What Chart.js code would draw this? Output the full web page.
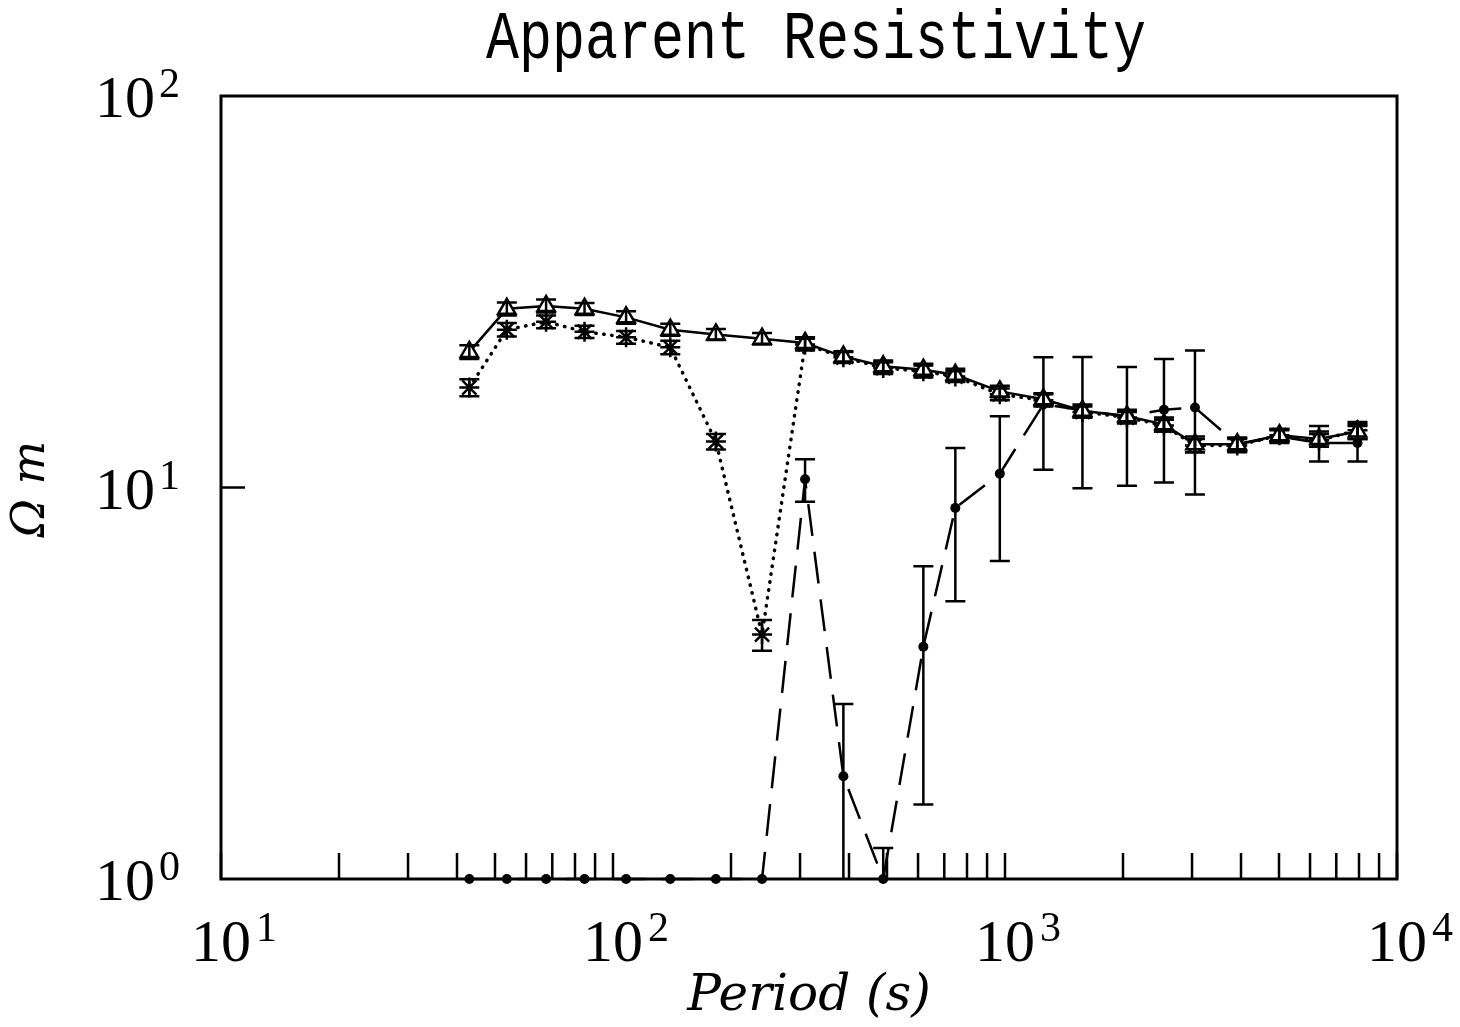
<!DOCTYPE html>
<html>
<head>
<meta charset="utf-8">
<title>Apparent Resistivity</title>
<script src="https://cdn.jsdelivr.net/npm/chart.js@4.4.1/dist/chart.umd.min.js"></script>
<style>
  html, body { margin: 0; padding: 0; background: #fff; }
</style>
</head>
<body>
<canvas id="canvas-1" width="1460" height="1027"></canvas>
<script>
// periods (s)
const periods = [43, 53.6, 67.5, 84.6, 108, 140, 183, 240, 309, 387, 489, 619, 747, 970, 1253, 1576, 2047, 2544, 3052, 3912, 5012, 6325, 7930];

// triangles, solid line
const rhoTri = [22.2, 28.6, 29.1, 28.6, 27.2, 25.3, 24.6, 24.0, 23.4, 21.6, 20.4, 20.0, 19.4, 17.6, 16.8, 15.7, 15.2, 14.5, 12.9, 12.9, 13.6, 13.3, 13.9];
const errTri = [0.9, 1.1, 1.1, 1.0, 1.0, 0.9, 0.8, 0.8, 0.8, 0.7, 0.7, 0.7, 0.7, 0.6, 0.6, 0.6, 0.6, 0.6, 0.6, 0.5, 0.5, 0.6, 0.6];

// asterisks, dotted line
const rhoStar = [18.0, 25.3, 26.5, 25.0, 24.2, 22.8, 13.1, 4.21, 23.2, 21.5, 20.2, 19.8, 19.2, 17.3, 16.7, 15.6, 15.1, 14.4, 12.8, 12.8, 13.6, 13.2, 14.0];
const errStar = [0.9, 1.0, 1.0, 0.9, 0.9, 0.9, 0.6, 0.38, 0.8, 0.7, 0.7, 0.7, 0.6, 0.6, 0.6, 0.5, 0.5, 0.5, 0.5, 0.5, 0.5, 0.5, 0.7];

// dots, dashed line (values under 1 sit on the bottom axis)
const rhoDot = [1, 1, 1, 1, 1, 1, 1, 1, 10.5, 1.83, 1, 3.92, 8.87, 10.85, 16.3, 15.75, 15.2, 15.8, 16.0, 12.9, 13.5, 13.0, 13.0];
const errDot = [0, 0, 0, 0, 0, 0, 0, 0, 1.3, 0.97, 0.2, 2.37, 3.75, 4.36, 5.2, 5.8, 5.1, 5.5, 6.4, 0.5, 0.5, 1.35, 1.35];

// axis ticks
const xTicks = [10, 20, 30, 40, 50, 60, 70, 80, 90, 100, 200, 300, 400, 500, 600, 700, 800, 900,
  1000, 2000, 3000, 4000, 5000, 6000, 7000, 8000, 9000, 10000];
const xMajor = [10, 100, 1000, 10000];
const xExp = ["1", "2", "3", "4"];
const yMajor = [1, 10, 100];
const yExp = ["0", "1", "2"];

const pts = (vals) => periods.map((p, i) => ({ x: p, y: vals[i] }));

// error bars, frame, ticks and texts
const extras = {
  id: "extras",
  afterDatasetsDraw(chart) {
    const ctx = chart.ctx;
    const xs = chart.scales.x;
    const ys = chart.scales.y;
    const area = chart.chartArea;
    const sets = [[rhoTri, errTri], [rhoStar, errStar], [rhoDot, errDot]];
    ctx.save();
    ctx.strokeStyle = "#000";
    ctx.lineWidth = 2.5;
    sets.forEach(([vals, errs]) => {
      vals.forEach((v, i) => {
        const e = errs[i];
        if (!e) return;
        const x = xs.getPixelForValue(periods[i]);
        const hi = ys.getPixelForValue(v + e);
        const lo = v - e > 0 ? ys.getPixelForValue(v - e) : area.bottom + 1;
        const top = Math.max(hi, area.top);
        const bot = Math.min(lo, area.bottom);
        ctx.beginPath();
        ctx.moveTo(x, top);
        ctx.lineTo(x, bot);
        if (hi >= area.top) { ctx.moveTo(x - 10, hi); ctx.lineTo(x + 10, hi); }
        if (lo <= area.bottom) { ctx.moveTo(x - 10, lo); ctx.lineTo(x + 10, lo); }
        ctx.stroke();
      });
    });
    ctx.restore();
  },
  afterDraw(chart) {
    const ctx = chart.ctx;
    const xs = chart.scales.x;
    const ys = chart.scales.y;
    const a = chart.chartArea;
    ctx.save();
    ctx.strokeStyle = "#000";
    ctx.fillStyle = "#000";
    ctx.lineWidth = 3;
    ctx.strokeRect(a.left, a.top, a.right - a.left, a.bottom - a.top);

    ctx.lineWidth = 2.5;
    ctx.beginPath();
    xTicks.forEach((t) => {
      const x = xs.getPixelForValue(t);
      ctx.moveTo(x, a.bottom);
      ctx.lineTo(x, a.bottom - 26);
    });
    const y10 = ys.getPixelForValue(10);
    ctx.moveTo(a.left, y10);
    ctx.lineTo(a.left + 24, y10);
    ctx.stroke();

    // tick labels 10^n
    xMajor.forEach((t, i) => {
      const x = xs.getPixelForValue(t);
      ctx.font = '60px "Liberation Serif"';
      const w = ctx.measureText("10").width;
      ctx.textAlign = "left";
      ctx.fillText("10", x - w / 2, 961);
      ctx.font = '42px "Liberation Serif"';
      ctx.fillText(xExp[i], x + w / 2 + 5, 941);
    });
    yMajor.forEach((t, i) => {
      const y = ys.getPixelForValue(t);
      ctx.font = '60px "Liberation Serif"';
      ctx.textAlign = "right";
      ctx.fillText("10", 155, y + 21);
      ctx.font = '42px "Liberation Serif"';
      ctx.textAlign = "left";
      ctx.fillText(yExp[i], 159, y + 1);
    });

    // titles
    ctx.textAlign = "center";
    ctx.save();
    ctx.translate(816, 58);
    ctx.scale(1, 1.25);
    ctx.font = '55px "Liberation Mono"';
    ctx.fillText("Apparent Resistivity", 0, 0);
    ctx.restore();
    ctx.font = 'italic 50px "DejaVu Serif"';
    ctx.fillText("Period (s)", 809, 1010);
    ctx.translate(44, 489);
    ctx.rotate(-Math.PI / 2);
    ctx.font = 'italic 46px "DejaVu Serif"';
    ctx.fillText("Ω m", 0, 0);
    ctx.restore();
  }
};

new Chart(document.getElementById("canvas-1"), {
  type: "line",
  data: {
    datasets: [
      {
        label: "triangles",
        data: pts(rhoTri),
        borderColor: "#000",
        borderWidth: 2.5,
        pointStyle: "triangle",
        pointRadius: 10,
        pointBorderWidth: 2.5,
        pointBorderColor: "#000",
        pointBackgroundColor: "#fff",
        tension: 0,
        clip: false
      },
      {
        label: "asterisks",
        data: pts(rhoStar),
        borderColor: "#000",
        borderWidth: 3.5,
        borderDash: [0.5, 7.5],
        borderCapStyle: "round",
        pointStyle: "star",
        pointRadius: 10,
        pointBorderWidth: 2.5,
        pointBorderColor: "#000",
        pointBackgroundColor: "#000",
        tension: 0,
        clip: false
      },
      {
        label: "dots",
        data: pts(rhoDot),
        borderColor: "#000",
        borderWidth: 2.5,
        borderDash: [32, 16],
        pointStyle: "circle",
        pointRadius: 5,
        pointBorderWidth: 0,
        pointBackgroundColor: "#000",
        tension: 0,
        clip: false
      }
    ]
  },
  options: {
    responsive: false,
    animation: false,
    layout: { padding: { left: 221, right: 63, top: 96, bottom: 148 } },
    plugins: {
      legend: { display: false },
      tooltip: { enabled: false }
    },
    scales: {
      x: { type: "logarithmic", min: 10, max: 10000, display: false },
      y: { type: "logarithmic", min: 1, max: 100, display: false }
    }
  },
  plugins: [extras]
});
</script>
</body>
</html>
